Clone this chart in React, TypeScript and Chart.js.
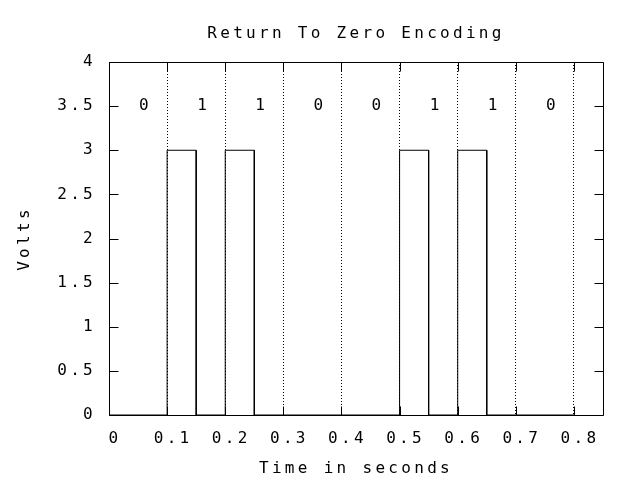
import React, { useEffect, useRef } from "react";
import { Chart, registerables } from "chart.js";

Chart.register(...registerables);

// Signal polyline (time in seconds, volts)
const signalTimes = [0, 0.1, 0.1, 0.15, 0.15, 0.2, 0.2, 0.25, 0.25, 0.5, 0.5, 0.55, 0.55, 0.6, 0.6, 0.65, 0.65, 0.8];
const signalVolts = [0, 0, 3, 3, 0, 0, 3, 3, 0, 0, 3, 3, 0, 0, 3, 3, 0, 0];

// Bit labels written above the signal
const bitLabels = ["0", "1", "1", "0", "0", "1", "1", "0"];
const bitLabelTimes = [0.05, 0.15, 0.25, 0.35, 0.45, 0.55, 0.65, 0.75];
const bitLabelVolts = 3.5;

const xMin = 0;
const xMax = 0.85;
const xStep = 0.1;
const yMin = 0;
const yMax = 4;
const yStep = 0.5;

const titleText = "Return To Zero Encoding";
const xTitle = "Time in seconds";
const yTitle = "Volts";

const FONT = "'DejaVu Sans Mono', monospace";
const FSIZE = 16;
const SPACING = "3.3px";

const spacingPlugin = {
  id: "spacing",
  beforeUpdate(chart: any) {
    chart.ctx.letterSpacing = SPACING;
  },
  beforeLayout(chart: any) {
    chart.ctx.letterSpacing = SPACING;
  },
  beforeDraw(chart: any) {
    chart.ctx.letterSpacing = SPACING;
  },
};

const framePlugin = {
  id: "frame",
  afterDraw(chart: any) {
    const { ctx, chartArea } = chart;
    const { left, right, top, bottom } = chartArea;
    const xs = chart.scales.x;
    const ys = chart.scales.y;
    const al = (v: number) => Math.round(v) + 0.5;
    const tl = 9;
    ctx.save();
    ctx.strokeStyle = "#000";
    ctx.lineWidth = 1;
    ctx.setLineDash([]);
    ctx.beginPath();
    ctx.rect(al(left), al(top), Math.round(right) - Math.round(left), Math.round(bottom) - Math.round(top));
    xs.ticks.forEach((t: any) => {
      const px = al(xs.getPixelForValue(t.value));
      ctx.moveTo(px, al(bottom));
      ctx.lineTo(px, al(bottom) - tl);
      ctx.moveTo(px, al(top));
      ctx.lineTo(px, al(top) + tl);
    });
    ys.ticks.forEach((t: any) => {
      const py = al(ys.getPixelForValue(t.value));
      ctx.moveTo(al(left), py);
      ctx.lineTo(al(left) + tl, py);
      ctx.moveTo(al(right), py);
      ctx.lineTo(al(right) - tl, py);
    });
    ctx.stroke();

    ctx.letterSpacing = SPACING;
    ctx.fillStyle = "#000";
    ctx.font = `${FSIZE}px ${FONT}`;
    ctx.textAlign = "left";
    ctx.textBaseline = "middle";
    bitLabels.forEach((lbl, i) => {
      ctx.fillText(lbl, xs.getPixelForValue(bitLabelTimes[i]) + 1, ys.getPixelForValue(bitLabelVolts));
    });
    ctx.restore();
  },
};

const fmt = (v: any) => String(+Number(v).toFixed(2));

export default function App() {
  const ref = useRef<HTMLCanvasElement | null>(null);

  useEffect(() => {
    document.body.style.margin = "0";
    const canvas = ref.current;
    if (!canvas) return;
    const data = signalTimes.map((t, i) => ({ x: t, y: signalVolts[i] }));
    const chart = new Chart(canvas, {
      type: "line",
      data: {
        datasets: [
          {
            data,
            borderColor: "#000",
            borderWidth: 1,
            pointRadius: 0,
            tension: 0,
            fill: false,
          },
        ],
      },
      options: {
        animation: false,
        responsive: false,
        maintainAspectRatio: false,
        devicePixelRatio: 1,
        layout: { padding: { left: 0, right: 37, top: 0, bottom: 0 } },
        plugins: {
          legend: { display: false },
          tooltip: { enabled: false },
          title: {
            display: true,
            fullSize: false,
            text: titleText,
            color: "#000",
            font: { family: FONT, size: FSIZE, weight: "normal", lineHeight: 1.2 },
            padding: { top: 24, bottom: 18.8 },
          },
        },
        scales: {
          x: {
            type: "linear",
            min: xMin,
            max: xMax,
            border: { display: false, dash: [1, 2] },
            grid: {
              display: true,
              color: "#000",
              lineWidth: 1,
              drawTicks: false,
            },
            ticks: {
              stepSize: xStep,
              includeBounds: false,
              color: "#000",
              font: { family: FONT, size: FSIZE },
              padding: 14,
              labelOffset: 6,
              maxRotation: 0,
              autoSkip: false,
              callback: fmt,
            },
            title: {
              display: true,
              text: xTitle,
              color: "#000",
              font: { family: FONT, size: FSIZE, lineHeight: 1.2 },
              padding: { top: 0, bottom: 1.4 },
            },
            afterFit(scale: any) {
              scale.height = 65;
            },
          },
          y: {
            type: "linear",
            min: yMin,
            max: yMax,
            border: { display: false },
            grid: { display: false, drawTicks: false },
            ticks: {
              stepSize: yStep,
              color: "#000",
              font: { family: FONT, size: FSIZE },
              padding: 13,
              callback: fmt,
            },
            title: {
              display: true,
              text: yTitle,
              color: "#000",
              font: { family: FONT, size: FSIZE, lineHeight: 1.2 },
              padding: { top: 15, bottom: 0 },
            },
            afterFit(scale: any) {
              scale.width = 109;
            },
          },
        },
      },
      plugins: [spacingPlugin, framePlugin],
    });
    return () => chart.destroy();
  }, []);

  return <canvas ref={ref} width={640} height={480} style={{ display: "block" }} />;
}
